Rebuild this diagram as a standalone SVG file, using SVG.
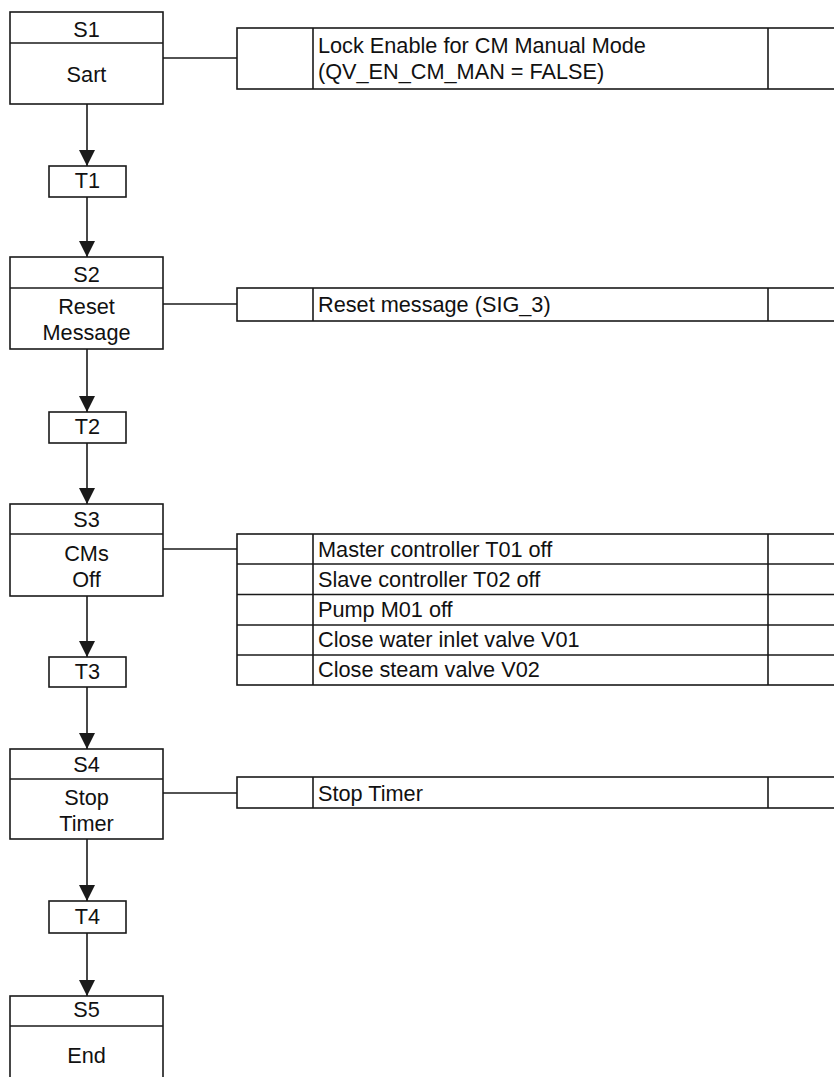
<svg xmlns="http://www.w3.org/2000/svg" width="834" height="1077" viewBox="0 0 834 1077">
<style>
.box{fill:#fff;stroke:#1a1a1a;stroke-width:1.6}
.ln{stroke:#1a1a1a;stroke-width:1.6;fill:none}
.t{font-family:"Liberation Sans",Arial,sans-serif;font-size:21.7px;fill:#111}
.c{text-anchor:middle}
</style>
<defs>
<marker id="arr" viewBox="0 0 16 16" markerWidth="16" markerHeight="16" markerUnits="userSpaceOnUse" refX="16" refY="8" orient="auto">
<path d="M0,0 L16,8 L0,16 z" fill="#1a1a1a"/>
</marker>
</defs>
<rect width="834" height="1077" fill="#fff"/>
<g id="connectors">
<line class="ln" x1="87" y1="104" x2="87" y2="166" marker-end="url(#arr)"/>
<line class="ln" x1="87" y1="197" x2="87" y2="257" marker-end="url(#arr)"/>
<line class="ln" x1="87" y1="349" x2="87" y2="412" marker-end="url(#arr)"/>
<line class="ln" x1="87" y1="443" x2="87" y2="504" marker-end="url(#arr)"/>
<line class="ln" x1="87" y1="596" x2="87" y2="657" marker-end="url(#arr)"/>
<line class="ln" x1="87" y1="687" x2="87" y2="749" marker-end="url(#arr)"/>
<line class="ln" x1="87" y1="839" x2="87" y2="901" marker-end="url(#arr)"/>
<line class="ln" x1="87" y1="933" x2="87" y2="996" marker-end="url(#arr)"/>
<line class="ln" x1="161" y1="58" x2="237" y2="58"/>
<line class="ln" x1="161" y1="304" x2="237" y2="304"/>
<line class="ln" x1="161" y1="549" x2="237" y2="549"/>
<line class="ln" x1="161" y1="793" x2="237" y2="793"/>
</g>
<g id="S1">
<rect class="box" x="10" y="12" width="153" height="92"/>
<line class="ln" x1="10" y1="43" x2="163" y2="43"/>
<text class="t c" x="86.5" y="36.5">S1</text>
<text class="t c" x="86.5" y="81.5">Sart</text>
</g>
<g id="A1">
<rect class="box" x="237" y="28" width="620" height="61"/>
<line class="ln" x1="313" y1="28" x2="313" y2="89"/>
<line class="ln" x1="768" y1="28" x2="768" y2="89"/>
<text class="t" x="318" y="53">Lock Enable for CM Manual Mode</text>
<text class="t" x="318" y="79">(QV_EN_CM_MAN = FALSE)</text>
</g>
<g id="T1">
<rect class="box" x="49" y="166" width="77" height="31"/>
<text class="t c" x="87.5" y="188">T1</text>
</g>
<g id="S2">
<rect class="box" x="10" y="257" width="153" height="92"/>
<line class="ln" x1="10" y1="288" x2="163" y2="288"/>
<text class="t c" x="86.5" y="281.5">S2</text>
<text class="t c" x="86.5" y="314">Reset</text>
<text class="t c" x="86.5" y="340">Message</text>
</g>
<g id="A2">
<rect class="box" x="237" y="288" width="620" height="33"/>
<line class="ln" x1="313" y1="288" x2="313" y2="321"/>
<line class="ln" x1="768" y1="288" x2="768" y2="321"/>
<text class="t" x="318" y="312">Reset message (SIG_3)</text>
</g>
<g id="T2">
<rect class="box" x="49" y="412" width="77" height="31"/>
<text class="t c" x="87.5" y="434">T2</text>
</g>
<g id="S3">
<rect class="box" x="10" y="504" width="153" height="92"/>
<line class="ln" x1="10" y1="534" x2="163" y2="534"/>
<text class="t c" x="86.5" y="527">S3</text>
<text class="t c" x="86.5" y="561">CMs</text>
<text class="t c" x="86.5" y="587">Off</text>
</g>
<g id="A3">
<rect class="box" x="237" y="534" width="620" height="151"/>
<line class="ln" x1="313" y1="534" x2="313" y2="685"/>
<line class="ln" x1="768" y1="534" x2="768" y2="685"/>
<line class="ln" x1="237" y1="564" x2="857" y2="564"/>
<line class="ln" x1="237" y1="594.5" x2="857" y2="594.5"/>
<line class="ln" x1="237" y1="625" x2="857" y2="625"/>
<line class="ln" x1="237" y1="655" x2="857" y2="655"/>
<text class="t" x="318" y="557">Master controller T01 off</text>
<text class="t" x="318" y="587">Slave controller T02 off</text>
<text class="t" x="318" y="616.5">Pump M01 off</text>
<text class="t" x="318" y="647">Close water inlet valve V01</text>
<text class="t" x="318" y="677">Close steam valve V02</text>
</g>
<g id="T3">
<rect class="box" x="49" y="657" width="77" height="30"/>
<text class="t c" x="87.5" y="678.5">T3</text>
</g>
<g id="S4">
<rect class="box" x="10" y="749" width="153" height="90"/>
<line class="ln" x1="10" y1="779" x2="163" y2="779"/>
<text class="t c" x="86.5" y="772">S4</text>
<text class="t c" x="86.5" y="805">Stop</text>
<text class="t c" x="86.5" y="830.5">Timer</text>
</g>
<g id="A4">
<rect class="box" x="237" y="777" width="620" height="31"/>
<line class="ln" x1="313" y1="777" x2="313" y2="808"/>
<line class="ln" x1="768" y1="777" x2="768" y2="808"/>
<text class="t" x="318" y="800.5">Stop Timer</text>
</g>
<g id="T4">
<rect class="box" x="49" y="901" width="77" height="32"/>
<text class="t c" x="87.5" y="924">T4</text>
</g>
<g id="S5">
<rect class="box" x="10" y="996" width="153" height="92"/>
<line class="ln" x1="10" y1="1026" x2="163" y2="1026"/>
<text class="t c" x="86.5" y="1017">S5</text>
<text class="t c" x="86.5" y="1063">End</text>
</g>
</svg>
